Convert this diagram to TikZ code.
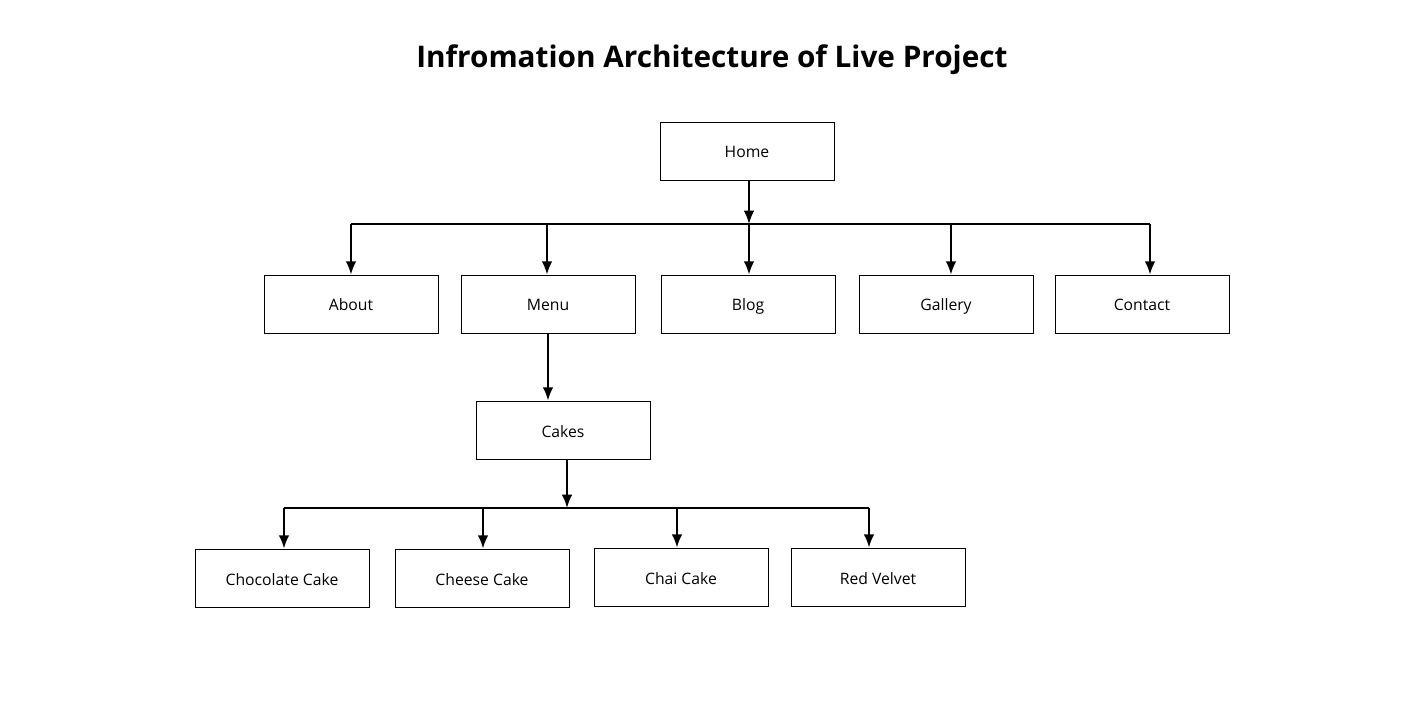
\documentclass[tikz,border=0pt]{standalone}
\usepackage{fontspec}
\setmainfont{Open Sans}
\usetikzlibrary{arrows.meta}

\tikzset{
  pagebox/.style={draw, line width=0.6pt, minimum width=130.5pt, minimum height=43.5pt, inner sep=0pt, text height=12pt, text depth=1.5pt, font=\fontsize{11.8pt}{13pt}\selectfont},
  link/.style={line width=1.5pt, -{Latex[length=10pt,width=8pt]}},
  bus/.style={line width=1.5pt}
}

\begin{document}
\begin{tikzpicture}[x=0.75pt, y=-0.75pt]
  \useasboundingbox (0,0) rectangle (1425,709);
  % title
  \node[font=\bfseries\fontsize{22.3pt}{26pt}\selectfont] (title) at (712,60) {Infromation Architecture of Live Project};
  % draw page boxes
  \node[pagebox] (home) at (747,151) {Home};
  \node[pagebox] (about) at (351,304) {About};
  \node[pagebox] (menu) at (548,304) {Menu};
  \node[pagebox] (blog) at (748,304) {Blog};
  \node[pagebox] (gallery) at (946,304) {Gallery};
  \node[pagebox] (contact) at (1142,304) {Contact};
  \node[pagebox] (cakes) at (563,430) {Cakes};
  \node[pagebox] (choc) at (282,578) {Chocolate Cake};
  \node[pagebox] (cheese) at (482,578) {Cheese Cake};
  \node[pagebox] (chai) at (681,577) {Chai Cake};
  \node[pagebox] (velvet) at (878,577) {Red Velvet};
  % draw top level links
  \coordinate (hbus) at (749,224);
  \draw[link] (home.south -| hbus) -- (hbus);
  \draw[bus] (351,224) coordinate (hl) -- (1150,224) coordinate (hr);
  \draw[link] (hl) -- (hl |- about.north);
  \draw[link] (547,224) -- (547,224 |- menu.north);
  \draw[link] (hbus) -- (hbus |- blog.north);
  \draw[link] (951,224) -- (951,224 |- gallery.north);
  \draw[link] (hr) -- (hr |- contact.north);
  % draw menu links
  \draw[link] (menu.south) -- (menu.south |- cakes.north);
  \coordinate (cbus) at (567,508);
  \draw[link] (cakes.south -| cbus) -- (cbus);
  \draw[bus] (284,508) coordinate (cl) -- (869,508) coordinate (cr);
  \draw[link] (cl) -- (cl |- choc.north);
  \draw[link] (483,508) -- (483,508 |- cheese.north);
  \draw[link] (677,508) -- (677,508 |- chai.north);
  \draw[link] (cr) -- (cr |- velvet.north);
\end{tikzpicture}
\end{document}
